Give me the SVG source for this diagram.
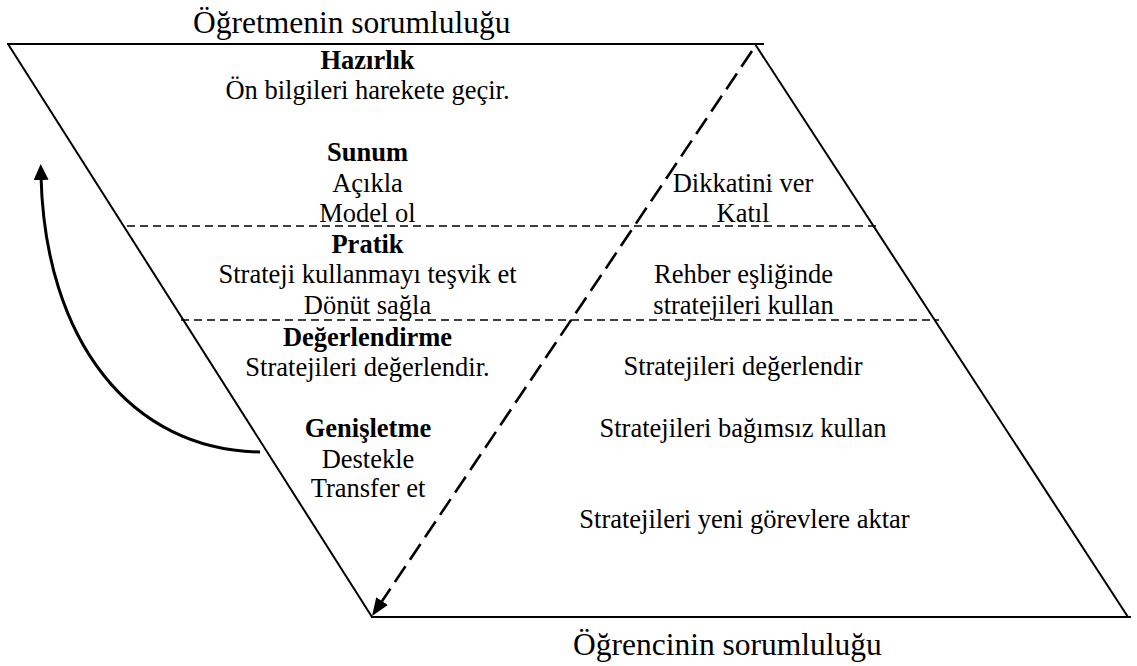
<svg xmlns="http://www.w3.org/2000/svg" width="1137" height="666" viewBox="0 0 1137 666">
  <style>
    text { font-family: "Liberation Serif", "Times New Roman", serif; fill: #000; }
    .t { font-size: 26.5px; text-anchor: middle; }
    .b { font-weight: bold; }
    .title { font-size: 31.5px; }
    .frame { stroke: #000; stroke-width: 2; fill: none; }
    .sep { stroke: #000; stroke-width: 1.6; stroke-dasharray: 8 5; fill: none; }
    .diag { stroke: #000; stroke-width: 2.6; stroke-dasharray: 19 8; fill: none; }
    .curve { stroke: #000; stroke-width: 3; fill: none; }
  </style>
  <defs>
    <marker id="ahDash" markerUnits="userSpaceOnUse" markerWidth="20" markerHeight="16" refX="10" refY="7" orient="auto">
      <path d="M0,0 L18,7 L0,14 z" fill="#000" stroke="none"/>
    </marker>
    <marker id="ahCurve" markerUnits="userSpaceOnUse" markerWidth="18" markerHeight="16" refX="4" refY="7.5" orient="auto">
      <path d="M0,0 L16,7.5 L0,15 z" fill="#000" stroke="none"/>
    </marker>
  </defs>
  <rect width="1137" height="666" fill="#fff"/>

  <g id="frame">
    <line class="frame" x1="7" y1="44" x2="764" y2="44" stroke-width="2.4"/>
    <line class="frame" x1="8" y1="44" x2="372" y2="617"/>
    <line class="frame" x1="755" y1="44" x2="1128" y2="617"/>
    <line class="frame" x1="371" y1="617" x2="1131" y2="617" stroke-width="2.4"/>
  </g>

  <g id="connectors">
    <line class="sep" x1="127" y1="226" x2="878" y2="226"/>
    <line class="sep" x1="181" y1="320" x2="939" y2="320"/>
    <path class="diag" d="M752,51 L376.5,609.4" marker-end="url(#ahDash)"/>
    <path class="curve" d="M260,452 C130,450 45,340 41,176" marker-end="url(#ahCurve)"/>
  </g>

  <g id="title-teacher"><text class="title" x="193" y="33">Öğretmenin sorumluluğu</text></g>
  <g id="title-student"><text class="title" x="573" y="655">Öğrencinin sorumluluğu</text></g>

  <g id="node-hazirlik">
    <text class="t b" x="367.5" y="69">Hazırlık</text>
    <text class="t" x="367.5" y="99">Ön bilgileri harekete geçir.</text>
  </g>
  <g id="node-sunum">
    <text class="t b" x="367.5" y="161">Sunum</text>
    <text class="t" x="367.5" y="191.5">Açıkla</text>
    <text class="t" x="367.5" y="221.5">Model ol</text>
  </g>
  <g id="node-pratik">
    <text class="t b" x="367.5" y="252.5">Pratik</text>
    <text class="t" x="367.5" y="283">Strateji kullanmayı teşvik et</text>
    <text class="t" x="367.5" y="313.5">Dönüt sağla</text>
  </g>
  <g id="node-degerlendirme">
    <text class="t b" x="367.5" y="345.5">Değerlendirme</text>
    <text class="t" x="367.5" y="375.5">Stratejileri değerlendir.</text>
  </g>
  <g id="node-genisletme">
    <text class="t b" x="368" y="436.5">Genişletme</text>
    <text class="t" x="368" y="467.5">Destekle</text>
    <text class="t" x="368" y="496.5">Transfer et</text>
  </g>

  <g id="node-student-sunum">
    <text class="t" x="743" y="191.5">Dikkatini ver</text>
    <text class="t" x="743" y="221.5">Katıl</text>
  </g>
  <g id="node-student-pratik">
    <text class="t" x="743.5" y="283">Rehber eşliğinde</text>
    <text class="t" x="743.5" y="313.5">stratejileri kullan</text>
  </g>
  <g id="node-student-degerlendirme">
    <text class="t" x="743" y="375">Stratejileri değerlendir</text>
  </g>
  <g id="node-student-genisletme">
    <text class="t" x="743" y="436.5">Stratejileri bağımsız kullan</text>
    <text class="t" x="744.5" y="528">Stratejileri yeni görevlere aktar</text>
  </g>
</svg>
